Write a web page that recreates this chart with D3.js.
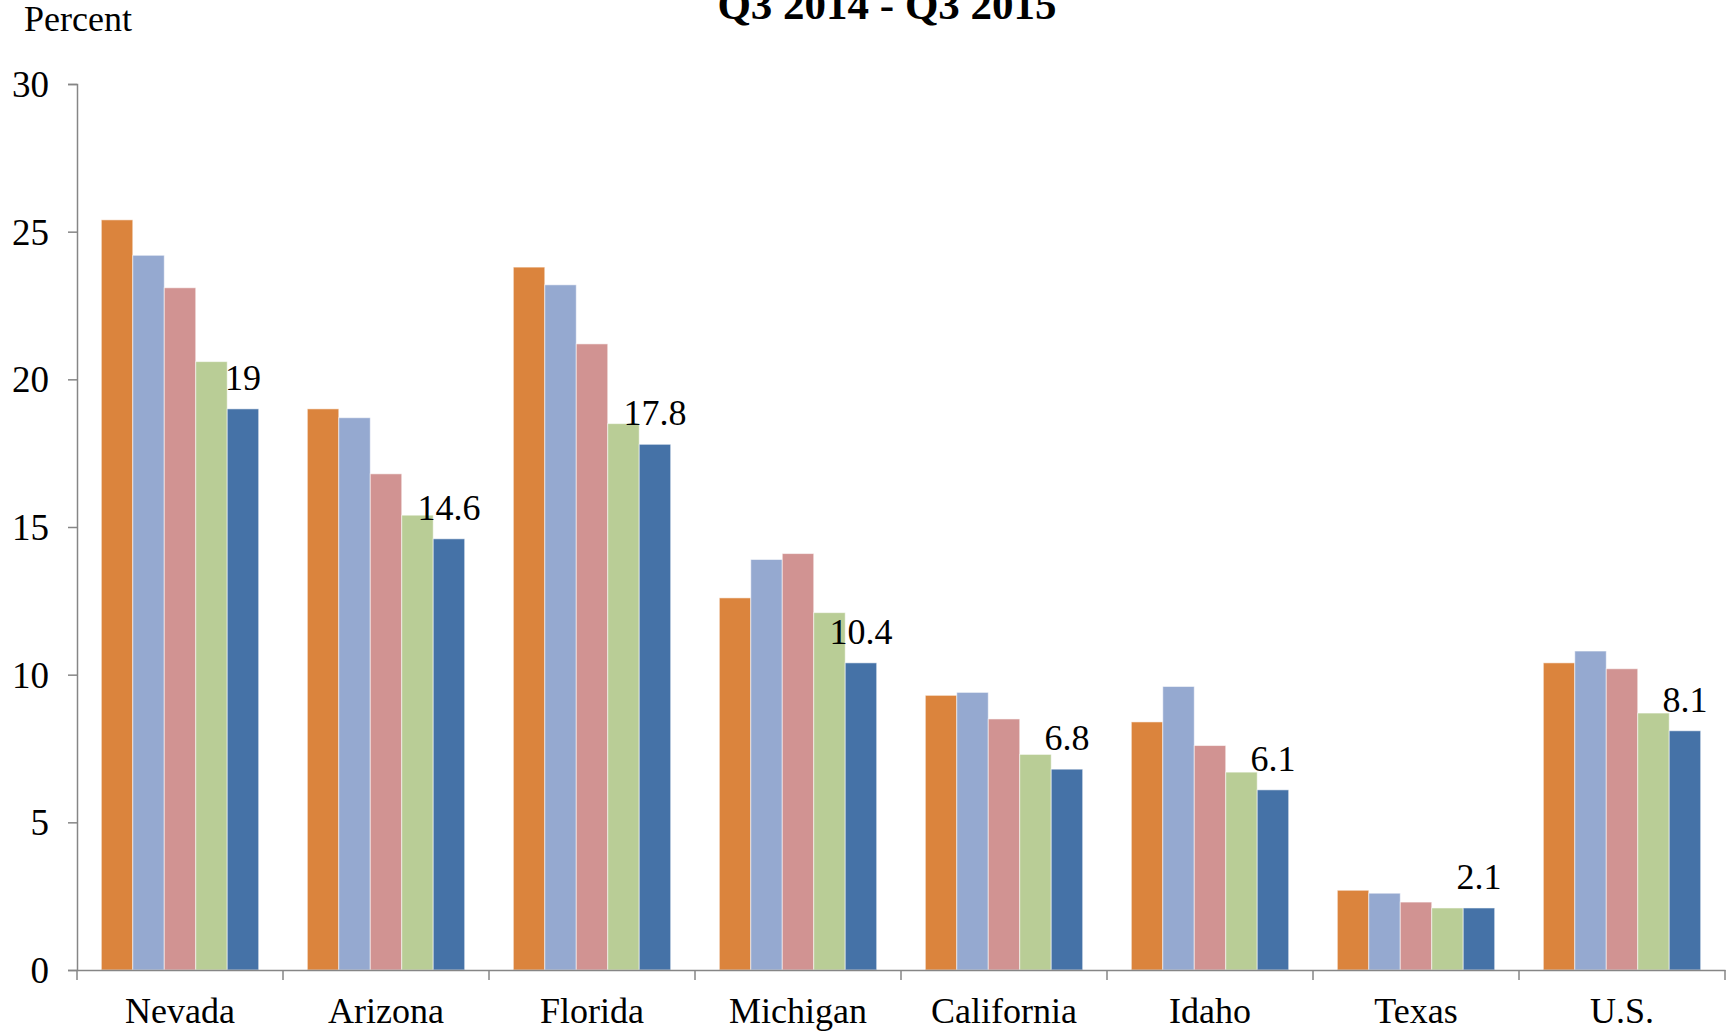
<!DOCTYPE html>
<html><head><meta charset="utf-8">
<script src="https://cdn.jsdelivr.net/npm/d3@7"></script>
<style>
html,body{margin:0;padding:0;background:#fff;}
svg{display:block;font-family:"Liberation Serif","Times New Roman",serif;}
</style></head>
<body><svg id="c" width="1732" height="1033"></svg>
<script>
const categories = ["Nevada","Arizona","Florida","Michigan","California","Idaho","Texas","U.S."];
const seriesNames = ["s1","s2","s3","s4","s5"];
const s1 = [25.4, 19.0, 23.8, 12.6, 9.3, 8.4, 2.7, 10.4];
const s2 = [24.2, 18.7, 23.2, 13.9, 9.4, 9.6, 2.6, 10.8];
const s3 = [23.1, 16.8, 21.2, 14.1, 8.5, 7.6, 2.3, 10.2];
const s4 = [20.6, 15.4, 18.5, 12.1, 7.3, 6.7, 2.1, 8.7];
const s5 = [19.0, 14.6, 17.8, 10.4, 6.8, 6.1, 2.1, 8.1];
const yTicks = [0, 5, 10, 15, 20, 25, 30];
const colors = ["#DB843D", "#95A9D0", "#D19392", "#B9CD96", "#4572A7"];
const title = "Q3 2014 - Q3 2015";
const yLabel = "Percent";

const series = [s1, s2, s3, s4, s5];
const W = 1732, H = 1033;
const m = {left: 77, right: 7, top: 84, bottom: 63};
const svg = d3.select("#c");

const x = d3.scaleBand().domain(categories).range([m.left, W - m.right]).padding(0);
const bw = x.bandwidth();
const pad = 0.118;
const xs = d3.scaleBand().domain(seriesNames).range([bw * pad, bw * (1 - pad)]).padding(0);
const y = d3.scaleLinear().domain([0, 30]).range([H - m.bottom, m.top]);

const axisColor = "#868686";

// bars
categories.forEach((c, i) => {
  const g = svg.append("g").attr("transform", `translate(${x(c)},0)`);
  series.forEach((s, j) => {
    g.append("rect")
      .attr("x", xs(seriesNames[j]))
      .attr("y", y(s[i]))
      .attr("width", xs.bandwidth())
      .attr("height", y(0) - y(s[i]))
      .attr("fill", colors[j])
      .attr("stroke", "rgba(255,255,255,0.55)")
      .attr("stroke-width", 1);
  });
  // label on last series
  g.append("text")
    .attr("x", xs(seriesNames[4]) + xs.bandwidth() / 2)
    .attr("y", y(s5[i]) - 19)
    .attr("text-anchor", "middle")
    .attr("font-size", 36)
    .attr("fill", "#000")
    .text(d3.format("")(s5[i]));
});

// y axis
const yAxis = d3.axisLeft(y).tickValues(yTicks).tickSize(9).tickPadding(19).tickFormat(d3.format("d"));
const ya = svg.append("g").attr("transform", `translate(${m.left},0)`).call(yAxis);
ya.select(".domain").attr("stroke", axisColor).attr("stroke-width", 1.5);
ya.selectAll(".tick line").attr("stroke", axisColor).attr("stroke-width", 1.5);
ya.selectAll(".tick text").attr("font-size", 37).attr("fill", "#000")
  .attr("font-family", "Liberation Serif, serif").attr("dy", "0.34em");

// x axis
const xAxis = d3.axisBottom(x).tickSize(0).tickPadding(27);
const xa = svg.append("g").attr("transform", `translate(0,${y(0)})`).call(xAxis);
xa.select(".domain").attr("stroke", axisColor).attr("stroke-width", 1.5);
xa.selectAll(".tick text").attr("font-size", 36).attr("fill", "#000")
  .attr("font-family", "Liberation Serif, serif").attr("dy", "0.71em");
// category boundary ticks
const bounds = categories.map(c => x(c)).concat([x(categories[categories.length - 1]) + bw]);
xa.selectAll(".bt").data(bounds).enter().append("line")
  .attr("x1", d => d).attr("x2", d => d).attr("y1", 0).attr("y2", 10)
  .attr("stroke", axisColor).attr("stroke-width", 1.5);

// title
svg.append("text").attr("x", 887).attr("y", 19).attr("text-anchor", "middle")
  .attr("font-size", 43).attr("font-weight", "bold").attr("fill", "#000").text(title);
svg.append("text").attr("x", 24).attr("y", 31).attr("font-size", 36).attr("fill", "#000").text(yLabel);
</script></body></html>
